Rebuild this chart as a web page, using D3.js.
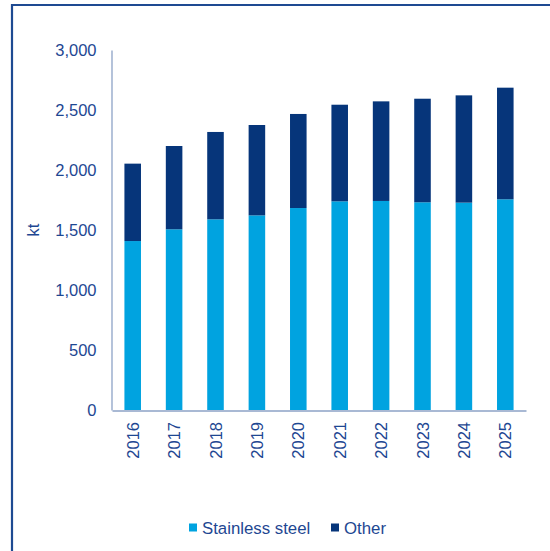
<!DOCTYPE html>
<html>
<head>
<meta charset="utf-8">
<script src="https://cdn.jsdelivr.net/npm/d3@7"></script>
<style>
  html, body { margin: 0; padding: 0; background: #fff; }
  svg { display: block; font-family: "Liberation Sans", Arial, sans-serif; }
</style>
</head>
<body>
<svg id="chart" width="550" height="551"></svg>
<script>
const years = ["2016","2017","2018","2019","2020","2021","2022","2023","2024","2025"];
const stainless = [1408, 1506, 1589, 1622, 1683, 1739, 1742, 1731, 1728, 1756];
const other = [645, 694, 728, 753, 784, 805, 830, 863, 894, 930];
const seriesNames = ["Stainless steel", "Other"];
const seriesColors = ["#00a3e0", "#06357a"];
const yTicks = [0, 500, 1000, 1500, 2000, 2500, 3000];
const yLabel = "kt";

const svg = d3.select("#chart");
const textColor = "#1e4792";
const axisColor = "#8da2c6";

// frame
svg.append("line").attr("x1", 12).attr("x2", 12).attr("y1", 4).attr("y2", 551)
  .attr("stroke", "#1e4a92").attr("stroke-width", 2.2);
svg.append("line").attr("x1", 11).attr("x2", 550).attr("y1", 5).attr("y2", 5)
  .attr("stroke", "#1e4a92").attr("stroke-width", 2.2);

const plot = { left: 112, right: 526, top: 50, bottom: 410 };

const x = d3.scaleBand().domain(years).range([plot.left, plot.right])
  .paddingInner(0.6).paddingOuter(0.3);
const y = d3.scaleLinear().domain([0, 3000]).range([plot.bottom, plot.top]);

const data = years.map((yr, i) => ({ year: yr, "Stainless steel": stainless[i], "Other": other[i] }));
const stack = d3.stack().keys(seriesNames)(data);
const color = d3.scaleOrdinal().domain(seriesNames).range(seriesColors);

svg.append("g").selectAll("g").data(stack).join("g")
  .attr("fill", d => color(d.key))
  .selectAll("rect").data(d => d).join("rect")
  .attr("x", d => x(d.data.year))
  .attr("width", x.bandwidth())
  .attr("y", d => y(d[1]))
  .attr("height", d => y(d[0]) - y(d[1]));

// y axis
const yAxis = svg.append("g").attr("transform", `translate(${plot.left - 0.5},0)`)
  .call(d3.axisLeft(y).tickValues(yTicks).tickFormat(d3.format(",")).tickSize(0).tickPadding(15));
yAxis.select(".domain").attr("stroke", axisColor).attr("stroke-width", 1.3);
yAxis.selectAll("text").attr("fill", textColor).attr("font-size", 16.5)
  .attr("font-family", "'Liberation Sans', Arial, sans-serif");

// x axis
const xAxis = svg.append("g").attr("transform", `translate(0,${plot.bottom + 0.5})`)
  .call(d3.axisBottom(x).tickSize(0).tickPadding(0));
xAxis.select(".domain").attr("stroke", axisColor).attr("stroke-width", 1.3);
xAxis.selectAll("text")
  .attr("fill", textColor).attr("font-size", 16.5)
  .attr("font-family", "'Liberation Sans', Arial, sans-serif")
  .attr("text-anchor", "end")
  .attr("dy", null)
  .attr("transform", "translate(0,11.5) rotate(-90)")
  .attr("x", 0).attr("y", 0)
  .attr("dominant-baseline", "central");

// y label
svg.append("text")
  .attr("transform", `translate(33,${(plot.top + plot.bottom) / 2}) rotate(-90)`)
  .attr("text-anchor", "middle").attr("dominant-baseline", "central")
  .attr("fill", textColor).attr("font-size", 16.5)
  .text(yLabel);

// legend
const legendX = [189, 331];
const lg = svg.append("g");
seriesNames.forEach((name, i) => {
  lg.append("rect").attr("x", legendX[i]).attr("y", 523.5).attr("width", 8).attr("height", 8)
    .attr("fill", color(name));
  lg.append("text").attr("x", legendX[i] + 13).attr("y", 533.5)
    .attr("fill", textColor).attr("font-size", 16.8).text(name);
});
</script>
</body>
</html>
